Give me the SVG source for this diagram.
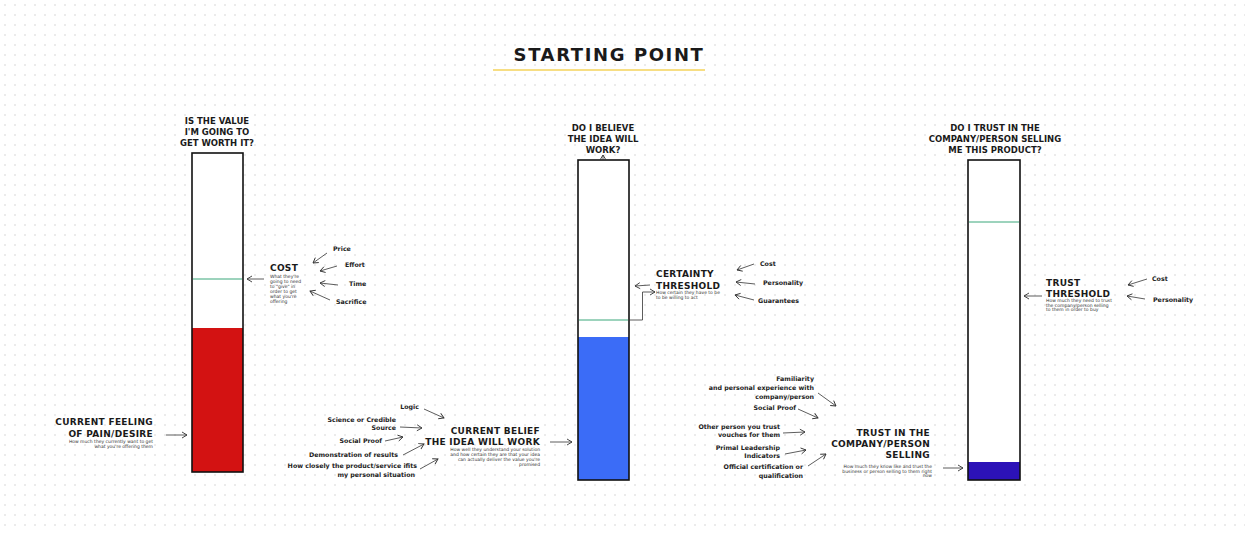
<svg xmlns="http://www.w3.org/2000/svg" width="1245" height="533" viewBox="0 0 1245 533">
<defs>
<pattern id="dots" width="10" height="10" patternUnits="userSpaceOnUse"><circle cx="5" cy="5" r="0.9" fill="#e2e2e2"/></pattern>
<marker id="ah" markerWidth="8" markerHeight="8" refX="6" refY="4" orient="auto" markerUnits="userSpaceOnUse"><path d="M1,1 L6,4 L1,7" fill="none" stroke="#333" stroke-width="0.9"/></marker>
<style>
.h{font-family:"DejaVu Sans",sans-serif;font-weight:bold;fill:#1a1a1a}
.q{font-size:8.5px;text-anchor:middle}
.lb{font-size:9px;letter-spacing:0.3px}
.it{font-family:"DejaVu Sans",sans-serif;font-weight:bold;font-size:6.3px;fill:#222}
.d{font-family:"DejaVu Sans",sans-serif;font-size:4.5px;fill:#333}
.r{text-anchor:end}
.bar{fill:none;stroke:#111;stroke-width:1.6}
.g{stroke:#3aa77a;stroke-width:1}
.c line,.c path{stroke:#333;stroke-width:0.8;fill:none;marker-end:url(#ah)}
</style>
</defs>
<rect width="1245" height="533" fill="#fff"/>
<rect width="1245" height="533" fill="url(#dots)"/>

<g id="title">
<text class="h" x="609" y="61" font-size="18" letter-spacing="1.6" text-anchor="middle">STARTING POINT</text>
<line x1="493" y1="70" x2="705" y2="70" stroke="#f5d35a" stroke-width="1.6"/>
</g>

<g id="bar1">
<text class="h q" x="217" y="124">IS THE VALUE</text>
<text class="h q" x="217" y="135">I'M GOING TO</text>
<text class="h q" x="217" y="146">GET WORTH IT?</text>
<rect x="192" y="153" width="51" height="319" fill="#fff"/>
<rect x="192" y="328" width="51" height="144" fill="#d31212"/>
<line class="g" x1="193" y1="279" x2="242" y2="279"/>
<rect class="bar" x="192" y="153" width="51" height="319"/>
</g>

<g id="bar2">
<text class="h q" x="603" y="131">DO I BELIEVE</text>
<text class="h q" x="603" y="142">THE IDEA WILL</text>
<text class="h q" x="603" y="153">WORK?</text>
<rect x="578" y="160" width="51" height="320" fill="#fff"/>
<rect x="578" y="337" width="51" height="143" fill="#3b6cf7"/>
<line class="g" x1="579" y1="320" x2="628" y2="320"/>
<rect class="bar" x="578" y="160" width="51" height="320"/>
</g>

<g id="bar3">
<text class="h q" x="995" y="131">DO I TRUST IN THE</text>
<text class="h q" x="995" y="142">COMPANY/PERSON SELLING</text>
<text class="h q" x="995" y="153">ME THIS PRODUCT?</text>
<rect x="968" y="160" width="52" height="320" fill="#fff"/>
<rect x="968" y="462" width="52" height="18" fill="#2c12b8"/>
<line class="g" x1="969" y1="222" x2="1019" y2="222"/>
<rect class="bar" x="968" y="160" width="52" height="320"/>
</g>

<g id="cost">
<text class="h lb" x="270" y="271">COST</text>
<text class="d" x="270" y="278">What they're</text>
<text class="d" x="270" y="283">going to need</text>
<text class="d" x="270" y="288">to "give" in</text>
<text class="d" x="270" y="293">order to get</text>
<text class="d" x="270" y="298">what you're</text>
<text class="d" x="270" y="303">offering</text>
<text class="it" x="333" y="251">Price</text>
<text class="it" x="345" y="267">Effort</text>
<text class="it" x="349" y="286">Time</text>
<text class="it" x="336" y="304">Sacrifice</text>
</g>

<g id="pain">
<text class="h lb r" x="153" y="425">CURRENT FEELING</text>
<text class="h lb r" x="153" y="437">OF PAIN/DESIRE</text>
<text class="d r" x="153" y="443">How much they currently want to get</text>
<text class="d r" x="153" y="448">what you're offering them</text>
</g>

<g id="belief-items">
<text class="it r" x="419" y="409">Logic</text>
<text class="it r" x="396" y="422">Science or Credible</text>
<text class="it r" x="396" y="430">Source</text>
<text class="it r" x="382" y="443">Social Proof</text>
<text class="it r" x="398" y="457">Demonstration of results</text>
<text class="it r" x="417" y="468">How closely the product/service ifits</text>
<text class="it r" x="415" y="477">my personal situation</text>
</g>

<g id="belief">
<text class="h lb r" x="540" y="434">CURRENT BELIEF</text>
<text class="h lb r" x="540" y="445">THE IDEA WILL WORK</text>
<text class="d r" x="540" y="451">How well they understand your solution</text>
<text class="d r" x="540" y="456">and how  certain they are that your idea</text>
<text class="d r" x="540" y="461">can actually deliver the value you're</text>
<text class="d r" x="540" y="466">promised</text>
</g>

<g id="certainty">
<text class="h lb" x="656" y="277">CERTAINTY</text>
<text class="h lb" x="656" y="289">THRESHOLD</text>
<text class="d" x="656" y="294">How certain they have to be</text>
<text class="d" x="656" y="298.5">to be willing to act</text>
<text class="it" x="760" y="266">Cost</text>
<text class="it" x="763" y="285">Personality</text>
<text class="it" x="758" y="303">Guarantees</text>
</g>

<g id="trust-items">
<text class="it r" x="814" y="381">Familiarity</text>
<text class="it r" x="814" y="390">and personal experience with</text>
<text class="it r" x="814" y="399">company/person</text>
<text class="it r" x="796" y="410">Social Proof</text>
<text class="it r" x="780" y="429">Other person you trust</text>
<text class="it r" x="780" y="437">vouches for them</text>
<text class="it r" x="780" y="450">Primal Leadership</text>
<text class="it r" x="780" y="458">Indicators</text>
<text class="it r" x="803" y="469">Official certification or</text>
<text class="it r" x="803" y="478">qualification</text>
</g>

<g id="trust">
<text class="h lb r" x="930" y="436">TRUST IN THE</text>
<text class="h lb r" x="930" y="447">COMPANY/PERSON</text>
<text class="h lb r" x="930" y="458">SELLING</text>
<text class="d r" x="932" y="468">How much they know like and trust the</text>
<text class="d r" x="932" y="472.5">business or person selling to them right</text>
<text class="d r" x="932" y="477">now</text>
</g>

<g id="trust-threshold">
<text class="h lb" x="1046" y="286">TRUST</text>
<text class="h lb" x="1046" y="297">THRESHOLD</text>
<text class="d" x="1046" y="302">How much they need to trust</text>
<text class="d" x="1046" y="306.5">the company/person selling</text>
<text class="d" x="1046" y="311">to them in order to buy</text>
<text class="it" x="1152" y="281">Cost</text>
<text class="it" x="1153" y="302">Personality</text>
</g>

<g id="connectors" class="c">
<line x1="264" y1="279" x2="247" y2="279"/>
<line x1="327" y1="253" x2="313" y2="263"/>
<line x1="337" y1="266" x2="320" y2="271"/>
<line x1="338" y1="285" x2="320" y2="283"/>
<line x1="330" y1="300" x2="310" y2="291"/>
<line x1="166" y1="435" x2="187" y2="435"/>
<line x1="424" y1="409" x2="444" y2="418"/>
<line x1="400" y1="427" x2="422" y2="428"/>
<line x1="385" y1="441" x2="403" y2="437"/>
<line x1="403" y1="455" x2="424" y2="444"/>
<line x1="420" y1="469" x2="438" y2="459"/>
<line x1="550" y1="442" x2="572" y2="442"/>
<line x1="603" y1="160" x2="603" y2="155"/>
<line x1="650" y1="285" x2="635" y2="286"/>
<path d="M629,320 H642.5 V292 H655"/>
<line x1="754" y1="264" x2="737" y2="270"/>
<line x1="755" y1="284" x2="736" y2="282"/>
<line x1="754" y1="300" x2="735" y2="295"/>
<line x1="818" y1="393" x2="836" y2="406"/>
<line x1="798" y1="409" x2="818" y2="418"/>
<line x1="783" y1="433" x2="805" y2="432"/>
<line x1="785" y1="454" x2="806" y2="450"/>
<line x1="808" y1="466" x2="826" y2="454"/>
<line x1="943" y1="468" x2="963" y2="468"/>
<line x1="1042" y1="296" x2="1024" y2="296"/>
<line x1="1147" y1="279" x2="1128" y2="285"/>
<line x1="1145" y1="299" x2="1127" y2="296"/>
</g>
</svg>
